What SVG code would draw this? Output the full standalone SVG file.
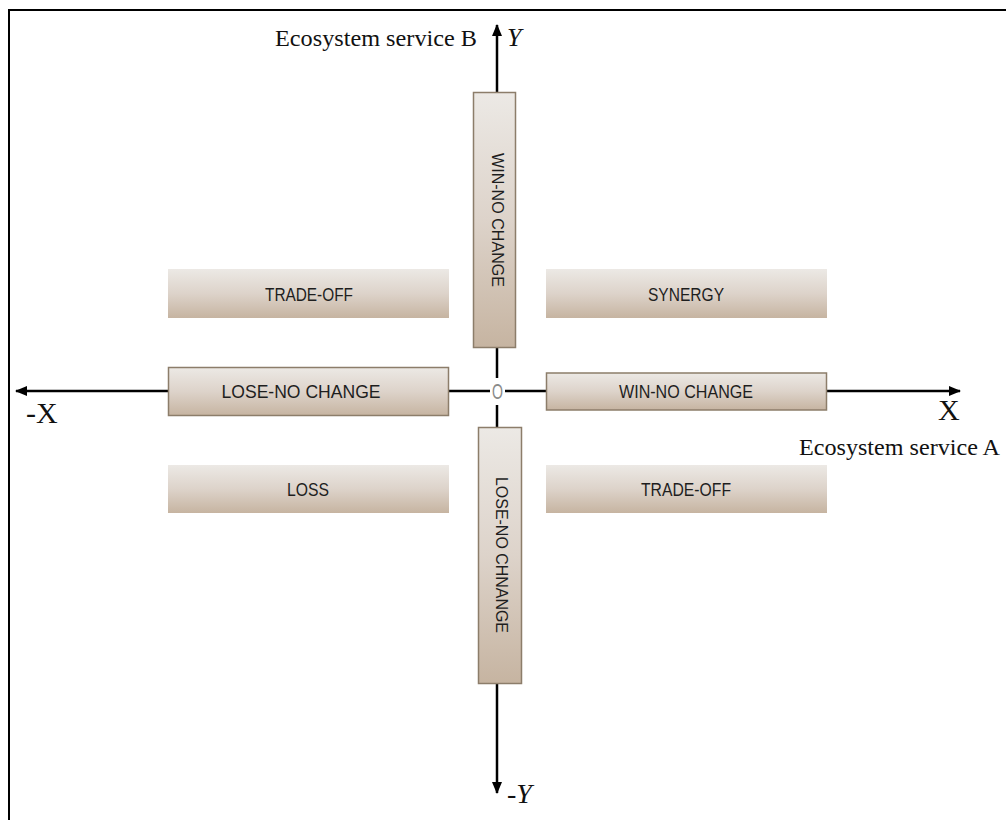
<svg xmlns="http://www.w3.org/2000/svg" width="1006" height="820" viewBox="0 0 1006 820">
<defs>
<linearGradient id="g" x1="0" y1="0" x2="0" y2="1">
<stop offset="0" stop-color="#ece9e5"/>
<stop offset="0.5" stop-color="#ddd3ca"/>
<stop offset="1" stop-color="#c6b4a1"/>
</linearGradient>
<marker id="ah" viewBox="0 0 12 12" refX="11" refY="6" markerWidth="12" markerHeight="12" markerUnits="userSpaceOnUse" orient="auto">
<path d="M0,1 L12,6 L0,11 Z" fill="#000"/>
</marker>
<style>
.box{fill:url(#g);}
.bd{stroke:#8c7d6a;stroke-width:1.5;}
.lbl{font-family:"Liberation Sans",Arial,sans-serif;font-size:18px;fill:#1e1e1e;text-anchor:middle;}
.vl{font-family:"Liberation Sans",Arial,sans-serif;font-size:16px;fill:#1e1e1e;text-anchor:middle;}
.ser{font-family:"Liberation Serif","Times New Roman",serif;fill:#111;}
.ax{stroke:#000;stroke-width:2.5;fill:none;}
</style>
</defs>
<rect width="1006" height="820" fill="#fff"/>
<g id="frame">
<path d="M9,820 V10 H1006" fill="none" stroke="#000" stroke-width="2"/>
</g>
<g id="connectors">
<line class="ax" x1="170" y1="391" x2="16" y2="391" marker-end="url(#ah)"/>
<line class="ax" x1="448" y1="391" x2="490" y2="391"/>
<line class="ax" x1="505" y1="391" x2="546" y2="391"/>
<line class="ax" x1="826" y1="391" x2="960" y2="391" marker-end="url(#ah)"/>
<line class="ax" x1="497" y1="93" x2="497" y2="25" marker-end="url(#ah)"/>
<line class="ax" x1="497" y1="347" x2="497" y2="378"/>
<line class="ax" x1="497" y1="405" x2="497" y2="428"/>
<line class="ax" x1="497" y1="683" x2="497" y2="793" marker-end="url(#ah)"/>
</g>
<g id="origin">
<text x="497.5" y="399" font-family="Liberation Sans, Arial, sans-serif" font-size="22" fill="#8a8a8a" text-anchor="middle" textLength="11" lengthAdjust="spacingAndGlyphs">O</text>
</g>
<g id="n-tradeoff-left">
<rect class="box" x="168" y="269" width="281" height="49"/>
<text class="lbl" x="309" y="300.5" textLength="88" lengthAdjust="spacingAndGlyphs">TRADE-OFF</text>
</g>
<g id="n-synergy">
<rect class="box" x="546" y="269" width="281" height="49"/>
<text class="lbl" x="686" y="300.5" textLength="76" lengthAdjust="spacingAndGlyphs">SYNERGY</text>
</g>
<g id="n-lose-no-change-h">
<rect class="box bd" x="168.5" y="367.5" width="280" height="48"/>
<text class="lbl" x="301" y="397.5" textLength="159" lengthAdjust="spacingAndGlyphs">LOSE-NO CHANGE</text>
</g>
<g id="n-win-no-change-h">
<rect class="box bd" x="546.5" y="373" width="280" height="37"/>
<text class="lbl" x="686" y="397.5" textLength="134" lengthAdjust="spacingAndGlyphs">WIN-NO CHANGE</text>
</g>
<g id="n-loss">
<rect class="box" x="168" y="465" width="281" height="48"/>
<text class="lbl" x="308" y="496" textLength="42" lengthAdjust="spacingAndGlyphs">LOSS</text>
</g>
<g id="n-tradeoff-right">
<rect class="box" x="546" y="465" width="281" height="48"/>
<text class="lbl" x="686" y="496" textLength="90" lengthAdjust="spacingAndGlyphs">TRADE-OFF</text>
</g>
<g id="n-win-no-change-v">
<rect class="box bd" x="473.5" y="92.5" width="42" height="255"/>
<text class="vl" transform="translate(492,220) rotate(90)" x="0" y="0" textLength="134" lengthAdjust="spacingAndGlyphs">WIN-NO CHANGE</text>
</g>
<g id="n-lose-no-change-v">
<rect class="box bd" x="478.5" y="427.5" width="43" height="256"/>
<text class="vl" transform="translate(496,555) rotate(90)" x="0" y="0" textLength="156" lengthAdjust="spacingAndGlyphs">LOSE-NO CHNANGE</text>
</g>
<g id="axis-labels">
<text class="ser" x="275" y="45.5" font-size="24" textLength="202" lengthAdjust="spacingAndGlyphs">Ecosystem service B</text>
<text class="ser" x="507" y="45.5" font-size="26" font-style="italic">Y</text>
<text class="ser" x="938" y="420" font-size="30">X</text>
<text class="ser" x="799" y="455" font-size="24" textLength="201" lengthAdjust="spacingAndGlyphs">Ecosystem service A</text>
<text class="ser" x="26" y="423" font-size="30">-X</text>
<text class="ser" x="507" y="803" font-size="28">-<tspan font-style="italic">Y</tspan></text>
</g>
</svg>
